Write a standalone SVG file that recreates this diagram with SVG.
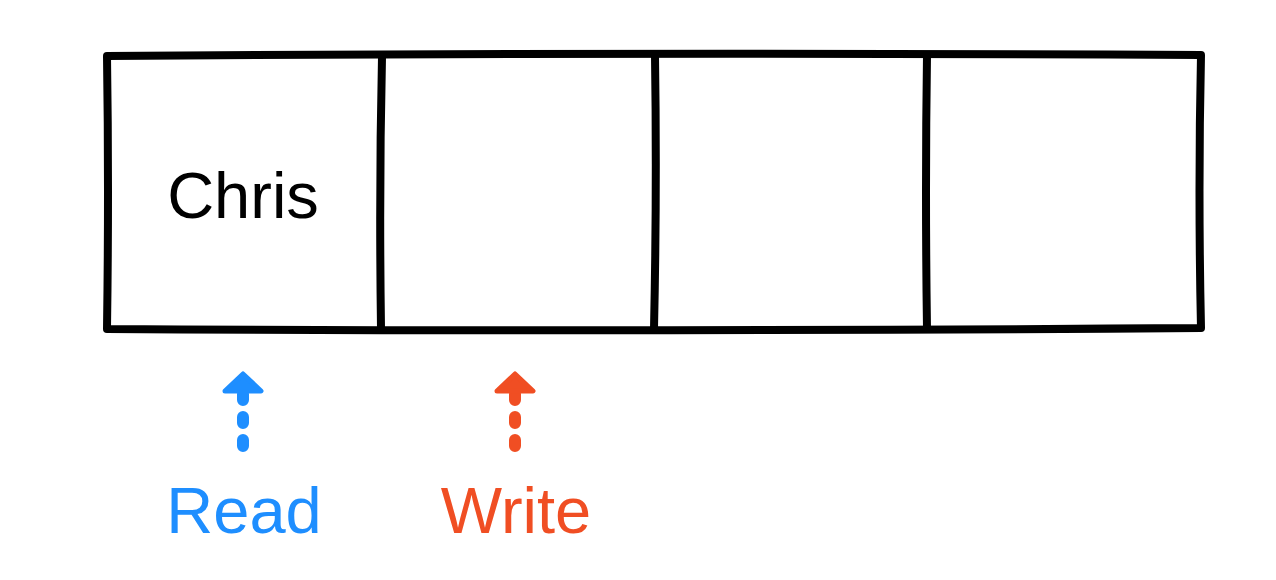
<svg xmlns="http://www.w3.org/2000/svg" width="1276" height="580" viewBox="0 0 1276 580">
<style>
.edge{fill:none;stroke:#000;stroke-width:8;stroke-linecap:round;stroke-linejoin:round}
.lbl{font-family:"Liberation Sans",Arial,sans-serif;font-size:65px;text-anchor:middle}
.dash{fill:none;stroke-width:12;stroke-linecap:round;stroke-dasharray:6 17}
</style>
<rect width="1276" height="580" fill="#fff"/>
<g id="array">
<path class="edge" d="M107,56 Q650,52 1201,55 Q1198,190 1201,328 Q650,332 107,329 Q109,190 107,56 Z"/>
<path class="edge" d="M382,57 Q379,190 381,328"/>
<path class="edge" d="M655,56 Q657,190 654,329"/>
<path class="edge" d="M927,55 Q925,190 927,329"/>
</g>
<g id="cell1"><text class="lbl" x="243" y="218" fill="#000">Chris</text></g>
<g id="connectors">
<g id="read-arrow">
<path class="dash" stroke="#1E8EFF" d="M243,446 L243,394"/>
<polygon points="243,374 261,391 225,391" fill="#1E8EFF" stroke="#1E8EFF" stroke-width="5" stroke-linejoin="round"/>
</g>
<g id="write-arrow">
<path class="dash" stroke="#F04E23" d="M515,446 L515,394"/>
<polygon points="515,374 533,391 497,391" fill="#F04E23" stroke="#F04E23" stroke-width="5" stroke-linejoin="round"/>
</g>
</g>
<g id="read-label"><text class="lbl" x="244" y="533" fill="#1E8EFF">Read</text></g>
<g id="write-label"><text class="lbl" x="516" y="533" fill="#F04E23">Write</text></g>
</svg>
